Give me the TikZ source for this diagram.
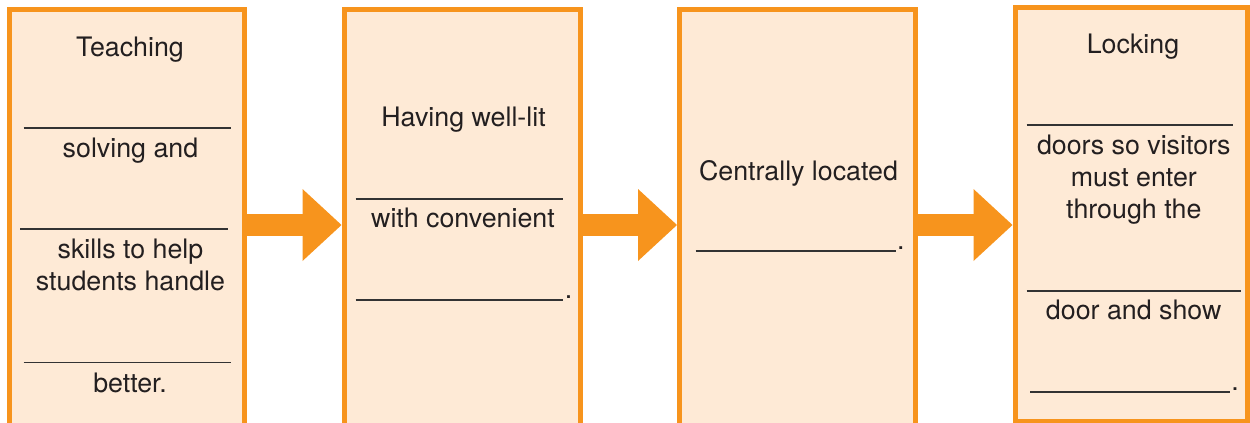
\documentclass[tikz,border=0pt]{standalone}
\usepackage{fontspec}
\setmainfont{TeX Gyre Heros}
\usetikzlibrary{arrows.meta,positioning}
\definecolor{boxorange}{HTML}{F7941D}
\definecolor{boxfill}{HTML}{FEEAD6}
\definecolor{inkgray}{HTML}{333333}
\definecolor{ink}{HTML}{231F20}

\begin{document}
\begin{tikzpicture}[x=0.5pt,y=-0.5pt,node distance=47.25pt,
  stage/.style={draw=boxorange,fill=boxfill,line width=2.5pt,minimum width=118pt,minimum height=215.5pt,inner sep=0pt},
  txt/.style={anchor=base,text=ink,font=\fontsize{13.4}{16}\selectfont,inner sep=0pt},
  fillin/.style={draw=inkgray,line width=0.8pt},
  flow/.style={draw=boxorange,line width=11pt,-{Triangle[length=19.5pt,width=36pt,line width=0pt]}}]
			\useasboundingbox (0,0) rectangle (1250,423);
			\node[stage,minimum width=117.5pt] (s_1) at (127,225) {};
			\node[stage] (s_2) [right=of s_1] {};
			\node[stage] (s_3) [right=of s_2] {};
			\node[stage,minimum width=116pt,minimum height=206.75pt] (s_4) [right=of s_3,yshift=5.375pt] {};
			\draw[flow] (s_1.east) -- (s_2.west);
			\draw[flow] (s_2.east) -- (s_3.west);
			\draw[flow] (s_3.east) -- (s_3.east -| s_4.west);
			% first stage
			\node[txt] (t_1a) at (130,56) {Teaching};
			\draw[fillin] (23.7,127.7) -- (231.3,127.7);
			\node[txt] (t_1b) at (130.5,157) {solving and};
			\draw[fillin] (20,229) -- (227.7,229);
			\node[txt] (t_1c) at (130.5,258) {skills to help};
			\node[txt] (t_1d) at (130.5,290) {students handle};
			\draw[fillin] (23.7,362.3) -- (231.3,362.3);
			\node[txt] (t_1e) at (130,392) {better.};
			% second stage
			\node[txt] (t_2a) at (463.5,126.7) {Having well-lit};
			\draw[fillin] (355.6,199) -- (563.4,199);
			\node[txt] (t_2b) at (463,227.7) {with convenient};
			\draw[fillin] (355.6,300) -- (563.4,300);
			\node[txt,anchor=base west] (t_2c) at (564.5,298.5) {.};
			% third stage
			\node[txt] (t_3a) at (798.5,180) {Centrally located};
			\draw[fillin] (695.5,250.7) -- (895.6,250.7);
			\node[txt,anchor=base west] (t_3b) at (896.7,249.2) {.};
			% fourth stage
			\node[txt] (t_4a) at (1133,53.3) {Locking};
			\draw[fillin] (1026.7,125) -- (1233.3,125);
			\node[txt] (t_4b) at (1133.8,155) {doors so visitors};
			\node[txt] (t_4c) at (1133.8,186.6) {must enter};
			\node[txt] (t_4d) at (1133.8,218.3) {through the};
			\draw[fillin] (1026.7,290.7) -- (1240.7,290.7);
			\node[txt] (t_4e) at (1133.7,319.3) {door and show};
			\draw[fillin] (1030,391.7) -- (1230,391.7);
			\node[txt,anchor=base west] (t_4f) at (1231,390.2) {.};
		\end{tikzpicture}
\end{document}
